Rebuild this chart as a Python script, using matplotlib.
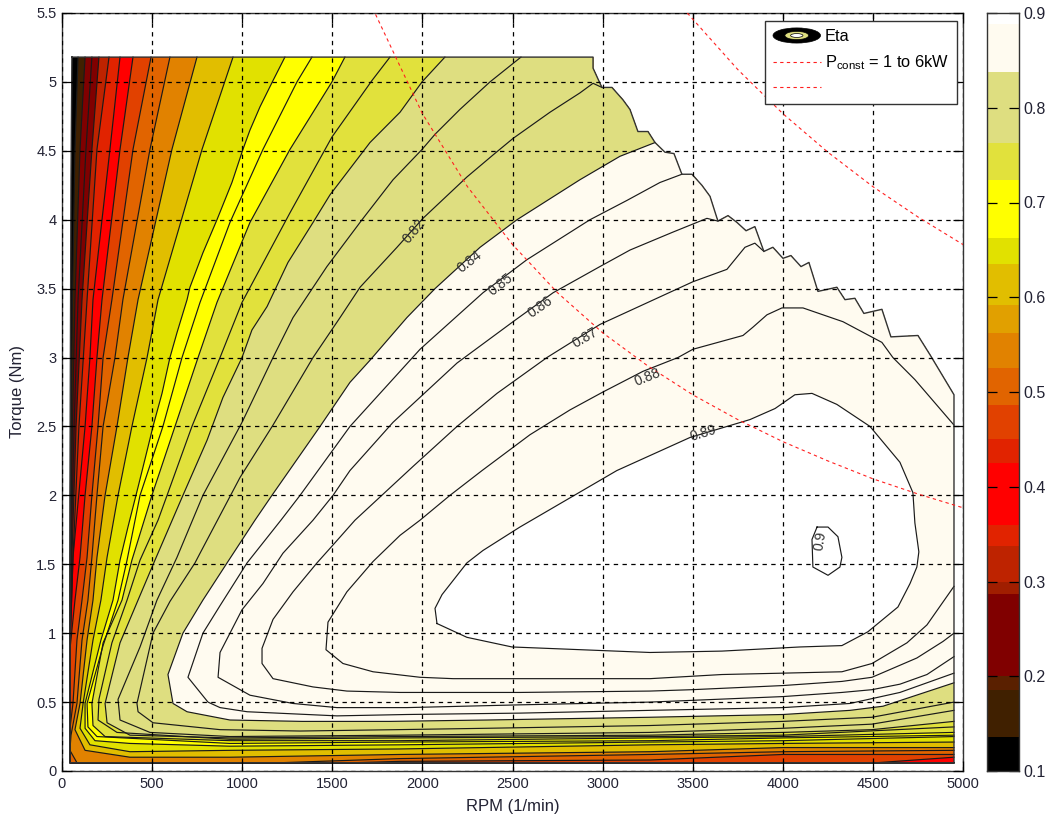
#!/usr/bin/env python3

import matplotlib
matplotlib.use('Agg')
import matplotlib.pyplot as plt
from matplotlib.legend_handler import HandlerBase
from matplotlib.lines import Line2D
from matplotlib.patches import Ellipse, Patch

plt.rcParams['font.family'] = ['Liberation Sans', 'DejaVu Sans']
plt.rcParams['mathtext.fontset'] = 'custom'
plt.rcParams['mathtext.rm'] = 'Liberation Sans'

rpm_limit = [2947, 2947, 2996, 3052, 3113, 3152, 3196, 3252, 3291, 3346, 3396, 3440, 3496, 3551, 3596, 3640, 3696, 3746,
             3796, 3845, 3895, 3945, 4001, 4045, 4101, 4145, 4195, 4300, 4345, 4400, 4450, 4550, 4600, 4750, 4817, 4950]
torque_limit = [5.18, 5.10, 4.96, 4.96, 4.87, 4.80, 4.64, 4.64, 4.56, 4.49, 4.48, 4.33, 4.33, 4.25, 4.17, 3.99, 4.03, 3.98,
                3.92, 3.95, 3.77, 3.80, 3.72, 3.74, 3.66, 3.69, 3.48, 3.51, 3.42, 3.43, 3.32, 3.35, 3.15, 3.16, 3.02, 2.73]

# contour lines, lowest efficiency first
rpm_base = [55, 50, 44, 44, 4950]
torque_base = [5.18, 4.30, 2.00, 0.06, 0.06]

rpm_014 = [89, 72, 58, 50, 44, 44, 4950]
torque_014 = [5.18, 4.51, 3.42, 2.50, 1.55, 0.06, 0.06]
rpm_020 = [128, 100, 72, 58, 50, 44, 44, 4950]
torque_020 = [5.18, 4.51, 3.42, 2.50, 1.82, 1.35, 0.06, 0.06]
rpm_028 = [166, 133, 89, 67, 50, 44, 44, 4950]
torque_028 = [5.18, 4.51, 3.42, 2.50, 1.55, 1.10, 0.06, 0.06]
rpm_032 = [205, 166, 111, 78, 55, 44, 44, 4950]
torque_032 = [5.18, 4.51, 3.42, 2.50, 1.55, 1.00, 0.06, 0.06]
rpm_036 = [261, 194, 139, 94, 61, 44, 44, 4950]
torque_036 = [5.18, 4.51, 3.42, 2.50, 1.55, 0.90, 0.06, 0.06]
rpm_040 = [322, 266, 172, 155, 128, 61, 44, 44, 4950]
torque_040 = [5.18, 4.51, 3.42, 3.00, 2.50, 1.55, 0.85, 0.06, 0.06]
rpm_044 = [394, 322, 222, 194, 166, 128, 100, 72, 44, 44, 4520, 4950]
torque_044 = [5.18, 4.51, 3.42, 3.00, 2.50, 2.00, 1.55, 1.24, 0.88, 0.06, 0.06, 0.10]
rpm_048 = [494, 394, 277, 228, 200, 166, 139, 111, 83, 61, 44, 44, 1615, 1876, 3263, 4001, 4950]
torque_048 = [5.18, 4.51, 3.42, 3.00, 2.50, 2.00, 1.55, 1.24, 0.95, 0.49, 0.31, 0.06, 0.06, 0.07, 0.08, 0.12, 0.12]
rpm_052 = [599, 488, 338, 294, 228, 194, 166, 144, 111, 83, 50, 44, 83, 1210, 1876, 3263, 4001, 4950]
torque_052 = [5.18, 4.51, 3.42, 3.00, 2.50, 2.00, 1.55, 1.24, 0.95, 0.49, 0.26, 0.15, 0.06, 0.06, 0.09, 0.12, 0.14, 0.15]
rpm_056 = [749, 610, 422, 366, 305, 239, 194, 172, 139, 100, 72, 128, 377, 932, 1876, 3263, 4001, 4950]
torque_056 = [5.18, 4.51, 3.42, 3.00, 2.50, 2.00, 1.55, 1.24, 0.95, 0.49, 0.30, 0.15, 0.10, 0.10, 0.12, 0.14, 0.17, 0.17]
rpm_060 = [949, 777, 533, 472, 388, 311, 250, 216, 172, 117, 100, 155, 377, 932, 1876, 3263, 4001, 4950]
torque_060 = [5.18, 4.51, 3.42, 3.00, 2.50, 2.00, 1.55, 1.24, 0.95, 0.49, 0.31, 0.19, 0.14, 0.15, 0.16, 0.19, 0.20, 0.21]
rpm_066 = [1237, 1171, 1099, 1043, 1004, 943, 860, 782, 710, 694, 638, 599, 555, 505, 477, 422, 366, 322, 283, 216, 128,
           128, 183, 377, 932, 1876, 3263, 4001, 4950]
torque_066 = [5.18, 5.01, 4.82, 4.65, 4.51, 4.27, 4.00, 3.76, 3.51, 3.42, 3.18, 3.00, 2.74, 2.50, 2.35, 2.06, 1.77, 1.53,
              1.24, 0.95, 0.49, 0.31, 0.22, 0.20, 0.18, 0.19, 0.21, 0.22, 0.25]
rpm_070 = [1387, 1304, 1115, 932, 766, 666, 560, 433, 361, 311, 228, 139, 144, 194, 932, 1876, 3263, 4001, 4950]
torque_070 = [5.18, 5.00, 4.51, 3.98, 3.40, 3.00, 2.50, 2.00, 1.53, 1.24, 0.91, 0.49, 0.32, 0.25, 0.20, 0.21, 0.22, 0.24,
              0.26]
rpm_072 = [1570, 1498, 1265, 1043, 860, 755, 627, 499, 388, 333, 228, 166, 172, 239, 932, 1876, 3263, 4001, 4950]
torque_072 = [5.18, 5.00, 4.51, 3.98, 3.40, 3.00, 2.50, 2.00, 1.53, 1.24, 0.93, 0.49, 0.33, 0.25, 0.22, 0.22, 0.24, 0.25,
              0.28]
rpm_074 = [1820, 1720, 1498, 1265, 999, 877, 721, 583, 533, 433, 361, 277, 205, 200, 305, 932, 1876, 3263, 4001, 4950]
torque_074 = [5.18, 5.01, 4.60, 4.05, 3.40, 3.00, 2.50, 2.00, 1.82, 1.53, 1.24, 0.93, 0.52, 0.37, 0.28, 0.23, 0.24, 0.25,
              0.26, 0.32]
rpm_076 = [2125, 1998, 1876, 1709, 1487, 1393, 1254, 1138, 1054, 999, 893, 805, 671, 516, 422, 322, 239, 250, 377, 932,
           1876, 3263, 4001, 4495, 4950]
torque_076 = [5.18, 5.00, 4.78, 4.56, 4.18, 3.98, 3.69, 3.37, 3.20, 3.00, 2.71, 2.40, 2.00, 1.53, 1.24, 0.93, 0.49, 0.35,
              0.26, 0.24, 0.25, 0.26, 0.28, 0.30, 0.36]
rpm_080 = [2547, 2375, 2208, 2070, 1998, 1837, 1665, 1470, 1282, 1171, 999, 782, 638, 527, 433, 311, 322, 488, 932, 1876,
           3263, 4001, 4495, 4950]
torque_080 = [5.18, 5.00, 4.80, 4.62, 4.51, 4.29, 4.00, 3.66, 3.29, 3.00, 2.53, 2.00, 1.55, 1.24, 0.90, 0.52, 0.37, 0.28,
              0.25, 0.26, 0.28, 0.31, 0.34, 0.44]
rpm_082 = [2996, 2947, 2874, 2708, 2503, 2392, 2247, 2003, 1859, 1654, 1543, 1393, 1171, 988, 766, 738, 599, 505, 416, 422,
           505, 877, 1321, 1859, 2358, 3263, 4001, 4495, 4950]
torque_082 = [4.96, 4.99, 4.92, 4.78, 4.59, 4.47, 4.31, 4.01, 3.80, 3.51, 3.29, 3.00, 2.51, 2.13, 1.58, 1.51, 1.23, 1.00,
              0.49, 0.43, 0.35, 0.30, 0.29, 0.30, 0.31, 0.33, 0.36, 0.39, 0.50]
rpm_084 = [3291, 3096, 2874, 2525, 2320, 2070, 1914, 1709, 1598, 1432, 1165, 1071, 916, 782, 671, 588, 616, 694, 932, 1332,
           1820, 2358, 3263, 4001, 4373, 4556, 4950]
torque_084 = [4.56, 4.46, 4.29, 4.00, 3.80, 3.50, 3.29, 2.98, 2.82, 2.50, 2.00, 1.82, 1.51, 1.24, 1.00, 0.70, 0.49, 0.43,
              0.37, 0.36, 0.36, 0.37, 0.39, 0.41, 0.44, 0.47, 0.64]
rpm_085 = [3440, 3318, 3135, 2930, 2580, 2336, 1987, 1598, 1321, 1215, 1027, 877, 782, 699, 810, 877, 1027, 1526, 1914,
           2541, 3263, 4001, 4373, 4650, 4950]
torque_085 = [4.33, 4.27, 4.14, 4.00, 3.71, 3.47, 3.06, 2.50, 2.00, 1.82, 1.51, 1.20, 1.00, 0.68, 0.50, 0.46, 0.43, 0.40,
              0.41, 0.42, 0.44, 0.46, 0.49, 0.57, 0.71]
rpm_086 = [3640, 3579, 3390, 3152, 2985, 2725, 2503, 2192, 1837, 1598, 1504, 1393, 1226, 1115, 999, 877, 866, 1043, 1282,
           1526, 1914, 2541, 3263, 4001, 4328, 4495, 4650, 4800, 4950]
torque_086 = [3.99, 4.01, 3.91, 3.78, 3.66, 3.47, 3.26, 2.96, 2.53, 2.18, 2.00, 1.82, 1.58, 1.36, 1.17, 0.86, 0.68, 0.55,
              0.49, 0.46, 0.46, 0.48, 0.50, 0.54, 0.57, 0.59, 0.63, 0.70, 0.83]
rpm_087 = [3895, 3845, 3790, 3690, 3501, 2985, 2691, 2414, 2192, 1948, 1626, 1504, 1415, 1282, 1171, 1110, 1110, 1171, 1393,
           1581, 1876, 2541, 3263, 3496, 4001, 4328, 4495, 4744, 4889, 4950]
torque_087 = [3.77, 3.83, 3.80, 3.64, 3.55, 3.24, 3.00, 2.74, 2.50, 2.21, 1.82, 1.64, 1.51, 1.30, 1.10, 0.89, 0.78, 0.67,
              0.61, 0.58, 0.57, 0.57, 0.58, 0.59, 0.62, 0.65, 0.68, 0.82, 0.94, 1.00]
rpm_088 = [4950, 4733, 4611, 4550, 4334, 4112, 3995, 3912, 3834, 3779, 3501, 3418, 3224, 3002, 2819, 2597, 2331, 2153, 1987,
           1876, 1726, 1581, 1476, 1465, 1559, 1726, 1987, 2170, 2541, 3263, 3662, 4001, 4328, 4495, 4689, 4800, 4950]
torque_088 = [2.51, 2.84, 3.00, 3.11, 3.26, 3.36, 3.36, 3.31, 3.22, 3.16, 3.06, 3.00, 2.90, 2.75, 2.62, 2.44, 2.18, 2.00,
              1.82, 1.71, 1.52, 1.30, 1.08, 0.88, 0.78, 0.72, 0.68, 0.67, 0.67, 0.67, 0.70, 0.71, 0.72, 0.78, 0.93, 1.06, 1.34]
rpm_089 = [2081, 2070, 2109, 2247, 2336, 2541, 3079, 3485, 3818, 3957, 4067, 4162, 4300, 4484, 4650, 4722, 4733, 4755, 4744,
           4706, 4639, 4472, 4328, 4095, 3662, 3263, 2497, 2247, 2081]
torque_089 = [1.07, 1.18, 1.28, 1.51, 1.60, 1.77, 2.18, 2.42, 2.55, 2.63, 2.73, 2.74, 2.66, 2.50, 2.24, 2.02, 1.80, 1.59,
              1.48, 1.36, 1.19, 1.01, 0.91, 0.90, 0.87, 0.86, 0.90, 0.97, 1.07]
rpm_090 = [4190, 4251, 4306, 4328, 4317, 4251, 4167, 4162, 4190]
torque_090 = [1.77, 1.77, 1.70, 1.55, 1.48, 1.42, 1.48, 1.68, 1.77]

contour_lines = [
    (rpm_base, torque_base, '#000000'),
    (rpm_014, torque_014, '#402000'),
    (rpm_020, torque_020, '#800000'),
    (rpm_028, torque_028, '#800000'),
    (rpm_032, torque_032, '#BE2300'),
    (rpm_036, torque_036, '#E12300'),
    (rpm_040, torque_040, '#FF0000'),
    (rpm_044, torque_044, '#E14100'),
    (rpm_048, torque_048, '#E16400'),
    (rpm_052, torque_052, '#E18200'),
    (rpm_056, torque_056, '#E1BE00'),
    (rpm_060, torque_060, '#E1E100'),
    (rpm_066, torque_066, '#FFFF00'),
    (rpm_070, torque_070, '#FFFF00'),
    (rpm_072, torque_072, '#E1E13C'),
    (rpm_074, torque_074, '#E1E13C'),
    (rpm_076, torque_076, '#DEDE80'),
    (rpm_080, torque_080, '#DEDE80'),
    (rpm_082, torque_082, '#DEDE80'),
    (rpm_084, torque_084, '#FFFBF0'),
    (rpm_085, torque_085, '#FFFBF0'),
    (rpm_086, torque_086, '#FFFBF0'),
    (rpm_087, torque_087, '#FFFBF0'),
    (rpm_088, torque_088, '#FFFBF0'),
    (rpm_089, torque_089, '#FFFFFF'),
    (rpm_090, torque_090, '#FFFFFF'),
]

# labelled contours: text, rpm, torque, angle
contour_labels = [
    ('0.82', 1953, 3.92, 50),
    ('0.84', 2264, 3.70, 38),
    ('0.85', 2436, 3.53, 38),
    ('0.86', 2652, 3.37, 35),
    ('0.87', 2902, 3.14, 30),
    ('0.88', 3252, 2.86, 22),
    ('0.89', 3557, 2.45, 17),
    ('0.9', 4206, 1.67, 80),
]

# constant power curves
rpm_1kw = [1740, 2000, 2250, 2500, 2750, 3000, 3250, 3500, 3750, 4000, 4250, 4500, 4750, 5000]
torque_1kw = [5.49, 4.77, 4.24, 3.82, 3.47, 3.18, 2.94, 2.73, 2.55, 2.39, 2.25, 2.12, 2.01, 1.91]
rpm_2kw = [3470, 3750, 4000, 4250, 4500, 4750, 5000]
torque_2kw = [5.50, 5.09, 4.77, 4.49, 4.24, 4.02, 3.82]

# colorbar bands
cbar_edges = [0.1, 0.136, 0.186, 0.2, 0.287, 0.3, 0.337, 0.36, 0.425, 0.45, 0.486, 0.525, 0.562, 0.592, 0.635, 0.663, 0.724,
              0.763, 0.838, 0.888, 0.9]
cbar_colors = ['#000000', '#402000', '#5A2000', '#800000', '#A01E00', '#BE2300', '#E12300', '#FF0000', '#E12300', '#E14100',
               '#E16400', '#E18200', '#E1A000', '#E1BE00', '#E1E100', '#FFFF00', '#E1E13C', '#DEDE80', '#FFFBF0', '#FFFFFF']
cbar_ticks = [0.1, 0.2, 0.3, 0.4, 0.5, 0.6, 0.7, 0.8, 0.9]

x_ticks = [0, 500, 1000, 1500, 2000, 2500, 3000, 3500, 4000, 4500, 5000]
y_ticks = [0, 0.5, 1, 1.5, 2, 2.5, 3, 3.5, 4, 4.5, 5, 5.5]
y_tick_labels = ['0', '0.5', '1', '1.5', '2', '2.5', '3', '3.5', '4', '4.5', '5', '5.5']


class EtaHandler(HandlerBase):
    # little nested ellipses for the contour entry in the legend
    def create_artists(self, legend, orig_handle, xdescent, ydescent, width, height, fontsize, trans):
        cx = width / 2 - xdescent
        cy = height / 2 - ydescent
        rings = [(1.0, 1.2, '#000000'), (0.5, 0.65, '#DEDE80'), (0.26, 0.3, '#FFFFFF')]
        artists = []
        for scale_w, scale_h, colour in rings:
            artists.append(Ellipse((cx, cy), width * scale_w, height * scale_h * 1.1, facecolor=colour,
                                   edgecolor='black', linewidth=0.5, transform=trans))
        return artists


def region_outline(rpm, torque):
    # close a contour line along the outer limit of the map
    xs = list(rpm)
    ys = list(torque)
    if xs[0] == xs[-1] and ys[0] == ys[-1]:
        return xs, ys
    for x, y in zip(reversed(rpm_limit), reversed(torque_limit)):
        if x > rpm[0]:
            xs.append(x)
            ys.append(y)
    return xs, ys


def plot_map():
    fig = plt.figure(figsize=(10.49, 8.18), dpi=100)
    ax = fig.add_axes([62 / 1049, 47 / 818, 901 / 1049, 758 / 818])

    # every region is painted over the one below it, lines go on afterwards
    for rpm, torque, colour in contour_lines:
        xs, ys = region_outline(rpm, torque)
        ax.fill(xs, ys, facecolor=colour, edgecolor='none', zorder=1)
    for rpm, torque, colour in contour_lines[1:]:
        ax.plot(rpm, torque, color='#1a1a1a', linewidth=0.85, zorder=1.5)
    xs, ys = region_outline(rpm_base, torque_base)
    ax.plot(xs + xs[:1], ys + ys[:1], color='#333333', linewidth=1.0, zorder=1.5)

    ax.plot(rpm_1kw, torque_1kw, color='#FF2020', linewidth=0.8, dashes=(3, 3), zorder=3)
    ax.plot(rpm_2kw, torque_2kw, color='#FF2020', linewidth=0.8, dashes=(3, 3), zorder=3)

    for text, rpm, torque, angle in contour_labels:
        ax.text(rpm, torque, text, fontsize=10, rotation=angle, rotation_mode='anchor',
                ha='center', va='center', color='#303030', zorder=4)

    ax.set_xlim(0, 5000)
    ax.set_ylim(0, 5.5)
    ax.set_xticks(x_ticks)
    ax.set_yticks(y_ticks)
    ax.set_yticklabels(y_tick_labels)
    ax.tick_params(direction='in', top=True, right=True, length=7, width=0.9, labelsize=10.5,
                   labelcolor='#222233', pad=4)
    ax.grid(True, color='black', linewidth=0.9, dashes=(3.5, 3.5), zorder=2)
    ax.set_axisbelow(False)
    for spine in ax.spines.values():
        spine.set_color('#333333')
        spine.set_linewidth(1.0)
    ax.set_xlabel('RPM (1/min)', fontsize=12, color='#222233', labelpad=6)
    ax.set_ylabel('Torque (Nm)', fontsize=12, color='#222233', labelpad=8)

    handles = [Patch(),
               Line2D([], [], color='#FF2020', linewidth=0.8, dashes=(3, 3)),
               Line2D([], [], color='#FF2020', linewidth=0.8, dashes=(3, 3))]
    labels = ['Eta', r'P$_{\mathrm{const}}$ = 1 to 6kW', ' ']
    legend = ax.legend(handles, labels, loc='upper right', bbox_to_anchor=(0.9933, 0.9894), borderaxespad=0,
                       fontsize=11.8, fancybox=False, framealpha=1, edgecolor='#333333',
                       handlelength=2.9, handletextpad=0.25, labelspacing=0.55, borderpad=0.5,
                       handler_map={Patch: EtaHandler()})
    legend.get_frame().set_linewidth(1.0)
    legend.set_zorder(6)

    # colorbar
    cax = fig.add_axes([987 / 1049, 47 / 818, 32 / 1049, 758 / 818])
    for low, high, colour in zip(cbar_edges[:-1], cbar_edges[1:], cbar_colors):
        cax.bar(0, high - low, bottom=low, width=1, color=colour, linewidth=0)
    cax.set_xlim(-0.5, 0.5)
    cax.set_ylim(0.1, 0.9)
    cax.set_xticks([])
    cax.set_yticks(cbar_ticks)
    cax.tick_params(axis='y', direction='in', left=True, right=True, labelleft=False, labelright=True,
                    length=7, width=0.9, labelsize=11.5, labelcolor='#222233', pad=3)
    for spine in cax.spines.values():
        spine.set_color('#333333')
        spine.set_linewidth(1.0)

    plot_filename = 'out.png'
    fig.savefig(plot_filename, dpi=100)
    print(f"Plot saved as '{plot_filename}'.")


def main():
    plot_map()


if __name__ == "__main__":
    main()
